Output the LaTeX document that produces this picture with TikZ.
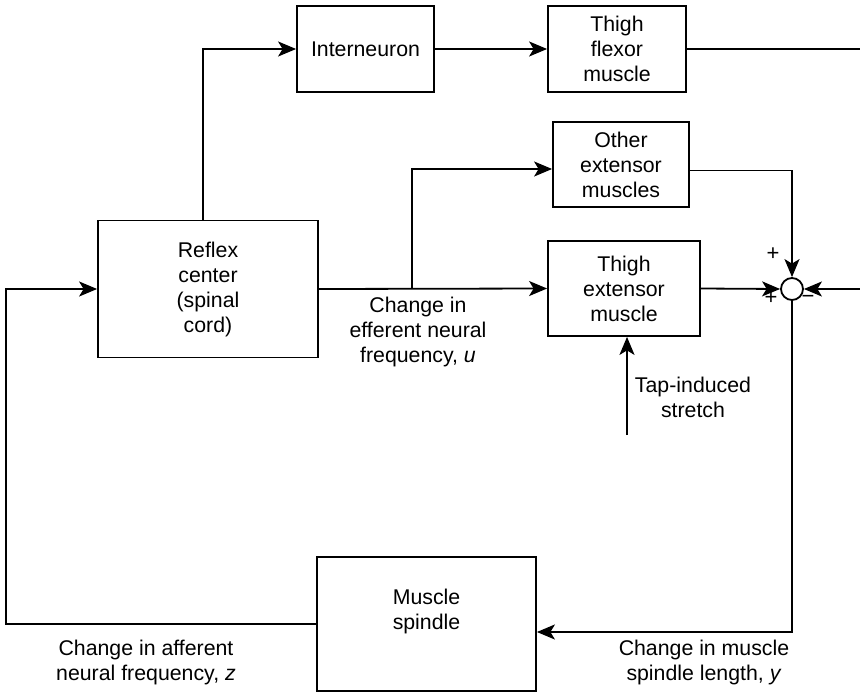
\documentclass[tikz,border=0pt]{standalone}
\usepackage{fontspec}
\setmainfont{Liberation Sans}
\usetikzlibrary{arrows.meta,calc}
\begin{document}
\begin{tikzpicture}[x=1pt,y=-1pt,
  every node/.style={font=\fontsize{21.3}{25}\selectfont},
  blk/.style={draw,line width=1.8pt,rectangle,align=center,inner sep=0pt},
  lbl/.style={align=center,inner sep=0pt},
  arr/.style={line width=1.8pt,-{Stealth[length=18pt,width=15pt,inset=4.5pt]}},
  ln/.style={line width=1.8pt},
  sgn/.style={inner sep=0pt,font=\fontsize{22}{22}\selectfont}]
\useasboundingbox (0,0) rectangle (860,693);
% blocks
\node[blk,minimum width=220,minimum height=137] (reflex) at (208,289) {Reflex\\center\\(spinal\\cord)};
\node[blk,minimum width=137,minimum height=86] (inter) at (365.5,49) {Interneuron};
\node[blk,minimum width=138,minimum height=86] (flexor) at (617,49) {Thigh\\flexor\\muscle};
\node[blk,minimum width=136,minimum height=85] (other) at (621,164.5) {Other\\extensor\\muscles};
\node[blk,minimum width=152,minimum height=95] (ext) at (624,288.5) {Thigh\\extensor\\muscle};
\node[blk,minimum width=219,minimum height=134] (spindle) at (426.5,624) {};
\node[lbl] (spindletxt) at (426.5,611) {Muscle\\spindle};
\node[draw,circle,line width=1.8pt,minimum size=22pt,inner sep=0pt] (sum) at (792,289) {};
% signs
\node[sgn] (p1) at (773,254) {+};
\node[sgn] (p2) at (771,298) {+};
\node[sgn] (m1) at (808,299) {\textminus};
% coordinates
\coordinate (up) at (203,220);
\coordinate (br) at (412,289);
\coordinate (flexend) at (861,49);
\coordinate (rin) at (861,289);
\coordinate (tap) at (627,435);
\coordinate (lft) at (6,450);
% connectors
\draw[arr] (up) |- (inter.west);
\draw[arr] (inter.east) -- (flexor.west);
\draw[ln] (flexor.east) -- (flexend);
\draw[arr] (reflex.east) -- (ext.west);
\draw[arr] (br) |- ([yshift=-4.5pt]other.west);
\draw[arr] ([yshift=-6pt]other.east) -| (sum.north);
\draw[arr] (ext.east) -- (sum.west);
\draw[arr] (rin) -- (sum.east);
\draw[arr] (sum.south) |- ([yshift=-8pt]spindle.east);
\draw[arr] (spindle.west) -| (lft) |- (reflex.west);
\draw[arr] (tap) -- (tap |- ext.south);
% labels
\node[lbl] (eff) at (418,332) {Change in\\efferent neural\\frequency, \textit{u}};
\node[lbl] (tapl) at (693,397.5) {Tap-induced\\stretch};
\node[lbl] (aff) at (146,662) {Change in afferent\\neural frequency, \textit{z}};
\node[lbl] (len) at (704,662) {Change in muscle\\spindle length, \textit{y}};
\end{tikzpicture}
\end{document}
